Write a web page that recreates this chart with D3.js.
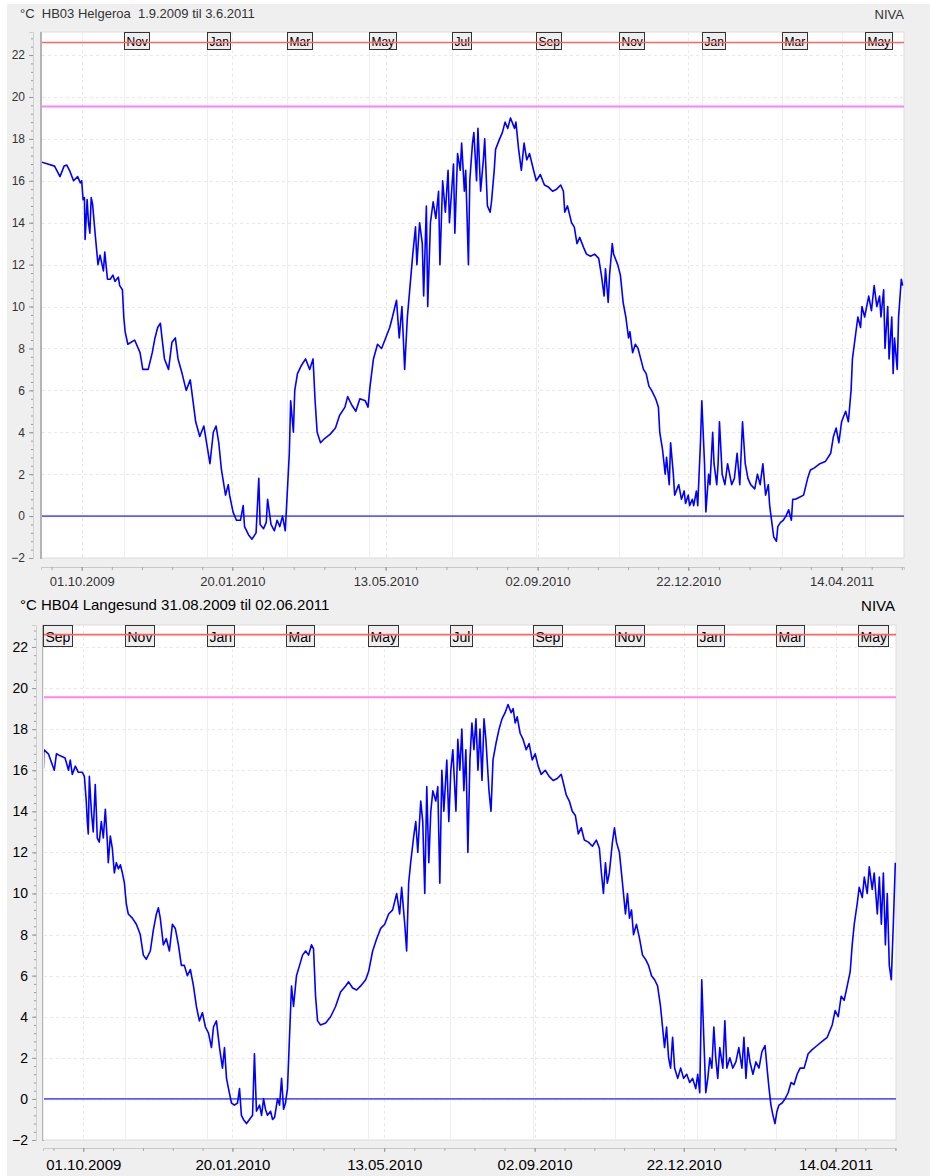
<!DOCTYPE html>
<html>
<head>
<meta charset="utf-8">
<script src="https://cdn.jsdelivr.net/npm/d3@7"></script>
<style>
body { margin: 0; background: #fff; }
svg { display: block; }
</style>
</head>
<body>
<div id="chart"></div>
<script>

// HB03 Helgeroa, day offset from 01.09.2009 and temperature (°C)
const hb03Days = [
  0,5,10,14,17,19,21,24,27,29,
  30,31,32,32.5,34,35,36,37,38,40,
  41,42,43.5,46,47,49,51,53,54.5,57,
  58,60,61,62,64,69,73,75,79,82,
  84,86,88,89,91,94,96.5,99,101,104,
  107,110,112,114,117,120,122,124.5,127,129,
  131,133,136,138,139,141.5,144,147,149,150,
  153,155.5,158.5,160.5,161.5,164,166,167,169.5,172,
  174,176,178,180,181,183,184,186,187,189,
  192,195,198,200.5,202,203.5,206,209,213,217,
  220,224,226,229,232,235,239,241,242.5,245,
  248,251,254,257,259,262,264,266,268,270,
  272,274,276,277,279,281,282,284,285,287,
  289,291,293,294,296,298,300,301,304,305,
  307,309,310,312,313,315,316,318,319,321,
  322,324,326,327,329,331,332,334,335,338,
  340,342,344,346,349,350,352,354,356,358,
  360,363,365,368,371,374,377,380,383,385,
  386,388,391,393,395,397,400,402,405,408,
  411,413,415,416,418,419,421,422,425,427,
  429,431,433,434,436,438,440,442,444,446,
  448,450,453,455,456,458,460,461,463,464,
  466,467,470,472,474,475,477,478,480,481,
  483,484,486,487,489,490,492,493,495,496,
  498,499,500,502,504,506,509,511,513,515,
  517,519,521,523,526,528,530,532,534,536,
  537,539,540,542,543,545,547,549,551,553,
  554,556,559,562,565,567,570,574,578,582,
  584,586,588,590,593,595,597,598,600,602,
  604,605,607,610,612,614,616,618,619,621,
  622,624,625,627,628,629,631,632,634,635
];
const hb03Temp = [
  16.9,16.8,16.7,16.2,16.7,16.75,16.5,16.0,16.2,15.9,
  16.0,15.1,15.2,13.2,15.1,14.0,13.5,15.2,14.9,13.4,
  12.7,12.0,12.45,11.7,12.6,11.3,11.3,11.5,11.2,11.4,
  11.0,10.8,9.5,8.8,8.2,8.4,7.8,7.0,7.0,7.8,
  8.5,9.0,9.2,8.6,7.5,7.0,8.3,8.5,7.5,6.8,
  6.0,6.5,5.5,4.5,3.8,4.3,3.5,2.5,4.0,4.3,
  3.5,2.2,1.0,1.5,1.0,0.2,-0.2,-0.2,0.5,-0.5,
  -0.9,-1.1,-0.8,1.8,-0.4,-0.6,-0.3,0.8,-0.4,-0.7,
  -0.2,-0.5,0.0,-0.7,0.5,3.0,5.5,4.0,6.0,6.8,
  7.2,7.5,7.0,7.5,5.5,4.0,3.5,3.7,3.9,4.2,
  4.8,5.2,5.7,5.3,5.0,5.6,5.5,5.2,6.2,7.5,
  8.2,8.0,8.5,9.0,9.5,10.3,8.5,10.0,7.0,9.5,
  11.0,12.5,13.8,12.0,14.0,13.0,10.5,14.8,10.0,14.0,
  15.0,14.2,15.5,12.0,16.0,14.5,16.5,14.0,16.8,13.5,
  17.3,16.5,17.8,15.5,16.5,12.0,16.0,17.8,18.3,16.0,
  18.5,15.5,17.0,18.0,14.8,14.5,15.0,16.5,17.5,18.0,
  18.3,18.8,18.5,19.0,18.5,18.8,17.5,16.5,17.8,17.0,
  17.3,16.5,16.0,16.3,15.8,15.7,15.5,15.6,15.8,15.5,
  14.5,14.8,14.0,13.8,13.0,13.3,12.8,12.5,12.4,12.5,
  12.3,11.5,10.5,11.8,10.2,11.5,13.0,12.5,12.0,11.5,
  10.2,9.5,8.5,8.8,7.8,8.2,8.0,7.5,7.0,6.8,
  6.2,6.0,5.6,5.2,4.0,3.2,2.0,2.8,1.5,3.5,
  2.0,1.0,1.5,0.8,1.2,0.6,1.0,0.5,0.8,0.5,
  1.2,0.5,3.5,5.5,2.5,0.2,2.0,1.5,4.0,2.5,
  1.5,2.5,4.5,2.0,1.5,2.5,1.5,1.8,3.0,1.5,
  4.5,2.5,1.8,1.5,1.3,2.0,1.5,2.5,1.0,1.5,
  0.5,-0.5,-1.0,-1.2,-0.5,-0.3,-0.2,0.0,0.3,-0.2,
  0.8,0.8,0.9,1.0,1.8,2.2,2.3,2.5,2.6,3.0,
  3.8,4.2,3.5,4.5,5.0,4.5,6.0,7.5,8.5,9.5,
  9.0,10.0,9.5,10.5,9.8,11.0,10.0,10.5,9.5,10.8,
  8.0,10.0,7.5,9.5,6.8,8.5,7.0,9.5,11.3,11.0
];

// HB04 Langesund, day offset from 01.09.2009 and temperature (°C)
const hb04Days = [
  0,0.3,0.6,4,8.4,10,12.9,16.4,19,20.3,21.8,
  24.1,26.3,29.3,30.8,32.2,33,33.7,34.5,36,37.4,
  38.9,39.7,40.4,41.9,43.4,44.9,46.4,47.9,48.6,50.1,
  51.6,53.1,54.6,56.1,57.6,59.1,60.6,62,63.5,66.5,
  69.5,72.4,74.7,76.9,79.9,82.1,84.4,85.9,87.3,89.6,
  91.8,94.1,96.3,98.5,100.8,103,105.2,107.5,109.7,112,
  114.2,116.4,118.7,120.9,123.2,125.4,126.9,129.1,131.4,133.6,
  135.1,136.6,138.1,140.3,142.5,144.8,146.3,147.7,149.2,151.5,
  153.7,156,157.4,158.9,161.2,162.7,164.2,165.6,167.1,169.4,
  170.9,172.4,174.6,176.1,177.6,179.1,180.5,182,183.5,185,
  186.5,188.7,191,193.2,195.5,197.7,199.9,201.4,202.9,204.4,
  206.6,210.4,214.1,217.8,221.5,225.3,227.5,230.5,233.5,236.5,
  240.2,242.4,245.4,248.4,251.4,254.4,257.3,260.3,263.3,265.5,
  267,269.3,270.7,272.2,273.7,276,277.5,279,281.2,282.7,
  284.2,285.7,287.2,288.7,290.2,292.4,293.9,295.4,296.9,298.4,
  300.6,302.1,303.6,305.1,307.4,308.8,310.3,311.8,313.3,314.8,
  316.3,317.8,319.3,320.8,322.3,323.8,325.3,326.8,328.3,329.7,
  332,333.5,335,337.2,339.5,341.7,344,346.2,348.5,350,
  351.5,353,355.2,357.4,359.7,361.9,364.2,366.4,368.6,370.9,
  373.9,376.8,379.8,382.8,385.8,387.3,389.5,391.8,394,396.3,
  398.5,400.7,403,406,409,411.9,414.2,415.7,417.2,418.7,
  420.1,421.6,423.9,425.4,426.9,429.1,431.4,433.6,435.1,436.6,
  438.1,439.6,441.8,444.1,446.3,448.5,450.8,453,455.3,457.5,
  459.7,461.2,462.7,464.2,465.7,467.2,468.7,470.2,472.5,474.7,
  476.9,479.2,481.4,483.6,485.9,487.4,488.9,490.4,491.9,493.4,
  494.9,496.4,497.9,499.4,500.8,502.3,503.8,506.1,507.6,509.1,
  511.3,513.5,515.8,518,520.3,521.8,523.3,524.8,526.3,528.5,
  530.7,533,535.2,537.5,539,540.5,541.9,543.4,544.9,546.4,
  547.9,550.2,552.4,554.7,556.9,559.1,561.4,563.6,566.6,569.6,
  572.6,576.3,580,583.8,587.5,589.7,592,594.2,596.4,598.7,
  600.9,602.4,603.9,606.1,607.6,609.9,611.4,613.6,615.1,617.3,
  618.8,621.1,622.6,624.1,625.6,627.1,628.5,630,631.5,633,
  634.5
];
const hb04Temp = [
  17.1,16.1,17.0,16.8,16.0,16.8,16.7,16.6,16.0,16.5,15.8,
  16.2,15.9,15.9,15.7,14.5,13.5,12.9,15.7,14.0,13.0,
  15.3,14.0,12.7,12.5,13.5,12.7,14.1,12.5,11.5,12.8,
  12.2,11.0,11.5,11.2,11.4,11.0,10.5,9.5,9.0,8.8,
  8.5,8.0,7.0,6.8,7.2,8.2,9.0,9.3,8.8,7.5,
  7.8,7.2,8.5,8.3,7.5,6.5,6.5,6.0,6.3,5.5,
  4.5,3.8,4.2,3.5,3.2,2.5,3.5,3.8,2.5,1.5,
  2.5,1.0,0.5,-0.2,-0.3,-0.2,0.5,-0.8,-1.0,-1.2,
  -1.0,-0.8,2.2,-0.6,-0.3,-0.8,0.0,-0.5,-0.8,-0.6,
  -1.0,-0.9,0.0,-0.3,1.0,-0.5,-0.2,0.5,3.0,5.5,
  4.5,6.0,6.5,7.0,7.2,7.0,7.5,7.3,5.0,3.8,
  3.6,3.7,4.0,4.5,5.2,5.5,5.7,5.4,5.3,5.5,
  5.8,6.2,7.2,7.8,8.3,8.5,9.0,9.2,10.0,9.0,
  10.3,8.5,7.2,10.5,11.5,12.8,13.5,12.0,14.5,13.5,
  10.0,15.2,11.5,14.0,15.0,14.5,15.2,10.5,16.0,14.0,
  16.5,13.5,16.0,17.0,14.0,17.5,16.0,18.0,15.0,17.0,
  12.0,16.5,18.3,17.0,18.5,16.0,18.0,15.5,18.5,17.5,
  15.0,14.0,16.5,17.3,18.0,18.5,18.8,19.2,18.8,19.0,
  18.3,18.6,17.8,17.5,17.0,17.3,16.5,16.8,16.2,15.8,
  16.0,15.7,15.5,15.6,15.8,15.4,14.8,14.5,14.0,13.8,
  12.9,13.2,12.6,12.5,12.3,12.6,12.2,11.0,10.0,11.5,
  10.5,11.0,12.5,13.2,12.5,12.0,10.5,9.0,10.0,8.8,
  9.2,8.0,8.5,7.8,7.0,6.8,6.5,6.0,5.8,5.5,
  4.5,3.5,2.5,3.5,2.0,1.5,3.0,1.5,1.0,1.5,
  1.0,1.2,0.8,1.0,0.5,1.2,0.3,5.8,3.0,0.3,
  1.0,2.0,1.5,3.5,2.0,1.0,2.5,1.5,3.8,1.5,
  2.0,1.5,1.8,2.5,1.5,3.0,1.0,2.5,1.8,1.2,
  1.8,1.5,2.3,2.6,1.5,0.5,-0.3,-0.8,-1.2,-0.6,
  -0.3,-0.2,0.0,0.3,0.8,0.7,1.2,1.5,1.5,2.2,
  2.4,2.6,2.8,3.0,3.6,4.3,4.0,5.0,4.8,5.5,
  6.2,7.5,8.5,9.5,10.3,9.8,10.8,10.0,11.3,10.2,
  11.0,9.0,10.8,8.5,11.0,7.5,10.0,6.5,5.8,8.5,
  11.5
];

// limit lines (°C): upper, summer, freezing
const limitValues = [22.6, 19.55, 0];
const limitColors = ["#ff6464", "#ff80ff", "#5c5cff"];

const yMajor = [-2, 0, 2, 4, 6, 8, 10, 12, 14, 16, 18, 20, 22];
const xTickLabels = ["01.10.2009", "20.01.2010", "13.05.2010", "02.09.2010", "22.12.2010", "14.04.2011"];

const monthStarts = ["01.09.2009", "01.11.2009", "01.01.2010", "01.03.2010", "01.05.2010", "01.07.2010",
                     "01.09.2010", "01.11.2010", "01.01.2011", "01.03.2011", "01.05.2011"];
const monthNames = ["Sep", "Nov", "Jan", "Mar", "May", "Jul", "Sep", "Nov", "Jan", "Mar", "May"];

const START = new Date(2009, 8, 1);
const parseD = d3.timeParse("%d.%m.%Y");
const WIDTH = 930, HEIGHT = 1176;

const svg = d3.select("#chart").append("svg")
    .attr("width", WIDTH)
    .attr("height", HEIGHT);

const panels = [
  { title: "°C  HB03 Helgeroa  1.9.2009 til 3.6.2011", days: hb03Days, temps: hb03Temp, firstMonth: 1,
    bgTop: 4, bgBottom: 590, l: 41, r: 904, t: 32, b: 558, ymax: 23.1, span: 636,
    yAxisX: 33, xAxisY: 567, fs: 12, tfs: 13, tcol: "#333", titleY: 18, nivaX: 904, labelDy: 19,
    boxH: 17, boxFs: 12, boxBase: 13 },
  { title: "°C HB04 Langesund 31.08.2009 til 02.06.2011", days: hb04Days, temps: hb04Temp, firstMonth: 0,
    bgTop: 590, bgBottom: 1176, l: 43, r: 896, t: 625, b: 1140, ymax: 23.07, span: 635,
    yAxisX: 36, xAxisY: 1148, fs: 14, tfs: 15, tcol: "#000", titleY: 610, nivaX: 895, labelDy: 22,
    boxH: 21, boxFs: 14, boxBase: 16 }
];

panels.forEach(function (p, i) {
  var g = svg.append("g");

  g.append("rect")
   .attr("x", 7).attr("y", p.bgTop)
   .attr("width", WIDTH - 7).attr("height", p.bgBottom - p.bgTop)
   .attr("fill", "#efefef");

  var x = d3.scaleTime()
            .domain([START, d3.timeDay.offset(START, p.span)])
            .range([p.l, p.r]);
  var y = d3.scaleLinear().domain([-2, p.ymax]).range([p.b, p.t]);

  // header
  g.append("text")
   .attr("x", 20).attr("y", p.titleY)
   .style("white-space", "pre")
   .attr("font-family", "Liberation Sans, Arial, sans-serif")
   .attr("font-size", p.tfs + "px")
   .attr("fill", p.tcol)
   .text(p.title);
  g.append("text")
   .attr("x", p.nivaX).attr("y", p.titleY + 1)
   .attr("text-anchor", "end")
   .attr("font-family", "Liberation Sans, Arial, sans-serif")
   .attr("font-size", p.tfs + "px")
   .attr("fill", p.tcol)
   .text("NIVA");

  // plot area
  g.append("rect")
   .attr("x", p.l).attr("y", p.t)
   .attr("width", p.r - p.l).attr("height", p.b - p.t)
   .attr("fill", "#fff")
   .attr("stroke", "#dcdcdc");
  g.append("line")
   .attr("x1", p.l).attr("x2", p.l).attr("y1", p.t).attr("y2", p.b + 1)
   .attr("stroke", "#b4b4b4").attr("stroke-width", 2);

  // horizontal grid
  g.selectAll(".hgrid").data(yMajor.filter(function (v) { return v > -2; }))
   .enter().append("line")
   .attr("x1", p.l + 1).attr("x2", p.r)
   .attr("y1", function (d) { return Math.round(y(d)) + 0.5; })
   .attr("y2", function (d) { return Math.round(y(d)) + 0.5; })
   .attr("stroke", "#e8e8e8").attr("stroke-dasharray", "3,3");

  // vertical grid at date ticks (dashed) and month starts (solid)
  var tickDates = xTickLabels.map(parseD);
  g.selectAll(".vgrid").data(tickDates)
   .enter().append("line")
   .attr("x1", function (d) { return Math.round(x(d)) + 0.5; })
   .attr("x2", function (d) { return Math.round(x(d)) + 0.5; })
   .attr("y1", p.t).attr("y2", p.b)
   .attr("stroke", "#e8e8e8").attr("stroke-dasharray", "3,3");

  var months = monthStarts.slice(p.firstMonth).map(parseD);
  var mNames = monthNames.slice(p.firstMonth);
  g.selectAll(".mgrid").data(months)
   .enter().append("line")
   .attr("x1", function (d) { return Math.round(x(d)) + 0.5; })
   .attr("x2", function (d) { return Math.round(x(d)) + 0.5; })
   .attr("y1", p.t).attr("y2", p.b)
   .attr("stroke", "#eeeeee");

  // month boxes
  var mb = g.selectAll(".mbox").data(months)
   .enter().append("g")
   .attr("transform", function (d) { return "translate(" + (Math.round(x(d)) + 0.5) + "," + (p.t + 0.5) + ")"; });
  mb.append("text")
   .attr("x", 2).attr("y", p.boxBase)
   .attr("font-family", "Liberation Sans, Arial, sans-serif")
   .attr("font-size", p.boxFs + "px")
   .attr("fill", "#000")
   .text(function (d, j) { return mNames[j]; });
  mb.insert("rect", "text")
   .attr("width", function () { return Math.round(this.parentNode.querySelector("text").getComputedTextLength()) + 4; })
   .attr("height", p.boxH)
   .attr("fill", "#eeeeee")
   .attr("stroke", "#333");

  // limit lines
  g.selectAll(".limit").data(limitValues)
   .enter().append("line")
   .attr("x1", p.l + 1).attr("x2", p.r)
   .attr("y1", function (d) { return y(d); })
   .attr("y2", function (d) { return y(d); })
   .attr("stroke", function (d, j) { return limitColors[j]; })
   .attr("stroke-width", function (d, j) { return j == 1 ? 2 : 1.6; });

  // y axis
  var yAxis = g.append("g")
   .attr("transform", "translate(" + p.yAxisX + ",0)")
   .call(d3.axisLeft(y).tickValues(yMajor).tickSize(4).tickPadding(4));
  g.append("g")
   .attr("transform", "translate(" + p.yAxisX + ",0)")
   .call(d3.axisLeft(y).tickValues(d3.range(-2, 23.01, 0.4)).tickSize(2).tickFormat(""))
   .call(function (a) { a.select(".domain").remove(); });
  g.selectAll(".domain").attr("stroke", "#d0d0d0");
  g.selectAll(".tick line").attr("stroke", "#999");
  yAxis.selectAll("text")
   .attr("font-family", "Liberation Sans, Arial, sans-serif")
   .attr("font-size", p.fs + "px")
   .attr("fill", p.tcol);

  // x axis
  var minor = [];
  for (var k = 0; k < tickDates.length - 1; k++) {
    var a = tickDates[k].getTime(), b = tickDates[k + 1].getTime();
    for (var s = 0; s < 5; s++) minor.push(new Date(a + (b - a) * s / 5));
  }
  var step = (tickDates[1] - tickDates[0]) / 5;
  minor.unshift(new Date(tickDates[0].getTime() - step));
  for (var s2 = 0; s2 < 3; s2++) minor.push(new Date(tickDates[tickDates.length - 1].getTime() + step * s2));

  var xMinor = g.append("g")
   .attr("transform", "translate(0," + p.xAxisY + ")")
   .call(d3.axisBottom(x).tickValues(minor).tickSize(3).tickFormat(""));
  xMinor.select(".domain").attr("stroke", "#c8c8c8");
  xMinor.selectAll(".tick line").attr("stroke", "#aaa");

  var xAxis = g.append("g")
   .attr("transform", "translate(0," + p.xAxisY + ")")
   .call(d3.axisBottom(x).tickValues(tickDates).tickSize(4).tickFormat(d3.timeFormat("%d.%m.%Y")));
  xAxis.select(".domain").remove();
  xAxis.selectAll(".tick line").attr("stroke", "#999");
  xAxis.selectAll("text")
   .attr("dy", null)
   .attr("y", p.labelDy)
   .attr("font-family", "Liberation Sans, Arial, sans-serif")
   .attr("font-size", (p.fs + 1) + "px")
   .attr("fill", p.tcol);

  // temperature line
  var clipId = "clip" + i;
  g.append("clipPath").attr("id", clipId)
   .append("rect")
   .attr("x", p.l + 1).attr("y", p.t)
   .attr("width", p.r - p.l - 1).attr("height", p.b - p.t);

  var line = d3.line()
   .x(function (d) { return x(START.getTime() + d[0] * 86400000); })
   .y(function (d) { return y(d[1]); });

  g.append("path")
   .datum(p.days.map(function (d, j) { return [d, p.temps[j]]; }))
   .attr("clip-path", "url(#" + clipId + ")")
   .attr("d", line)
   .attr("fill", "none")
   .attr("stroke", "#0000ff")
   .attr("stroke-width", 1.6)
   .attr("stroke-linejoin", "round");
});

</script>
</body>
</html>
